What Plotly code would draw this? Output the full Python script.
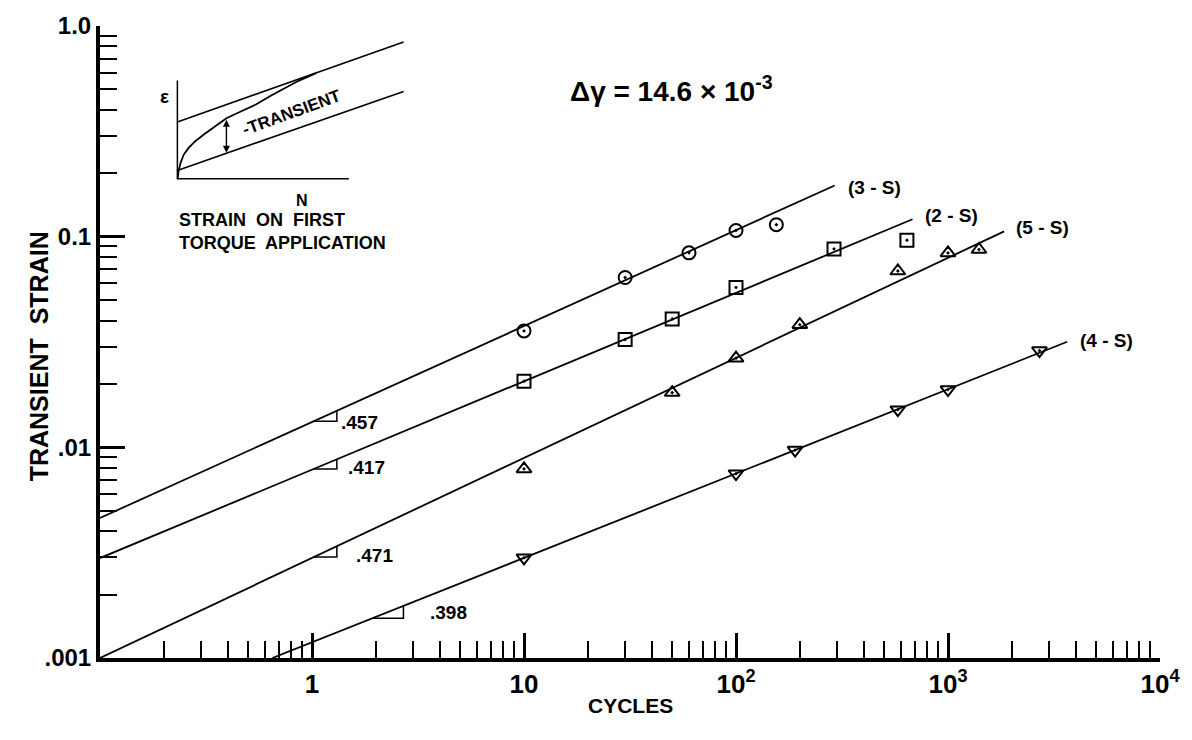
import numpy as np
import plotly.graph_objects as go

# ---------------- data ----------------
n_3s = [10, 30, 60, 100, 155]
eps_3s = [0.0357, 0.064, 0.0838, 0.107, 0.114]

n_2s = [10, 30, 50, 100, 290, 640]
eps_2s = [0.0206, 0.0325, 0.0407, 0.0574, 0.0875, 0.0962]

n_5s = [10, 50, 100, 200, 580, 1000, 1400]
eps_5s = [0.0079, 0.0182, 0.0265, 0.0382, 0.0687, 0.0837, 0.0869]

n_4s = [10, 100, 190, 580, 1000, 2700]
eps_4s = [0.00299, 0.0075, 0.0097, 0.0151, 0.0188, 0.0288]

# fitted straight lines (end points, log-log)
fit_3s_n = [0.1, 292]
fit_3s_eps = [0.00462, 0.175]
fit_2s_n = [0.1, 680]
fit_2s_eps = [0.00298, 0.121]
fit_5s_n = [0.1, 1840]
fit_5s_eps = [0.001, 0.106]
fit_4s_n = [0.65, 3650]
fit_4s_eps = [0.001, 0.0317]

series_names = ["(3 - S)", "(2 - S)", "(5 - S)", "(4 - S)"]
slopes = [".457", ".417", ".471", ".398"]
# N-range of the little slope triangles
tri_n = [[1.02, 1.31], [1.02, 1.31], [1.02, 1.31], [1.93, 2.7]]

x_tickvals = [1, 10, 100, 1000, 10000]
x_ticktext = ["1", "10", "10<sup>2</sup>", "10<sup>3</sup>", "10<sup>4</sup>"]
y_tickvals = [0.001, 0.01, 0.1, 1.0]
y_ticktext = [".001", ".01", "0.1", "1.0"]

# inset sketch (schematic units)
inset_axes_u = [0, 0, 173]
inset_axes_v = [100, 0, 0]
inset_upper_u = [0, 228]
inset_upper_v = [58, 139]
inset_lower_u = [0, 228]
inset_lower_v = [9, 89]
inset_curve_u = [1, 2, 4, 7, 12, 19, 28, 39, 50, 65, 80, 95, 110, 123, 140]
inset_curve_v = [1, 9, 17, 25, 32, 39, 46, 54, 62, 69, 76, 85, 93, 100, 107.5]

FONT = "Liberation Sans"
BLACK = "#000000"

fig = go.Figure()

fits = [(fit_3s_n, fit_3s_eps), (fit_2s_n, fit_2s_eps),
        (fit_5s_n, fit_5s_eps), (fit_4s_n, fit_4s_eps)]
pts = [(n_3s, eps_3s, "circle-open-dot"), (n_2s, eps_2s, "square-open-dot"),
       (n_5s, eps_5s, "triangle-up-open-dot"), (n_4s, eps_4s, "triangle-down-open-dot")]

for (fn, fe) in fits:
    fig.add_trace(go.Scatter(x=fn, y=fe, mode="lines",
                             line=dict(color=BLACK, width=1.8),
                             showlegend=False, hoverinfo="skip"))

# slope triangles (legs under each line)
def line_eps(fn, fe, n):
    ln = np.log10(fn); le = np.log10(fe)
    return 10 ** np.interp(np.log10(n), ln, le)

for (fn, fe), (n1, n2) in zip(fits, tri_n):
    e1 = line_eps(fn, fe, n1)
    e2 = line_eps(fn, fe, n2)
    fig.add_trace(go.Scatter(x=[n1, n2, n2], y=[e1, e1, e2], mode="lines",
                             line=dict(color=BLACK, width=1.5),
                             showlegend=False, hoverinfo="skip"))

for (n, e, sym) in pts:
    fig.add_trace(go.Scatter(x=n, y=e, mode="markers",
                             marker=dict(symbol=sym, size=13, color=BLACK,
                                         line=dict(color=BLACK, width=2)),
                             showlegend=False, hoverinfo="skip"))

# inset traces
for (u, v, w) in [(inset_axes_u, inset_axes_v, 3), (inset_upper_u, inset_upper_v, 1.6),
                  (inset_lower_u, inset_lower_v, 1.6), (inset_curve_u, inset_curve_v, 1.8)]:
    fig.add_trace(go.Scatter(x=u, y=v, xaxis="x2", yaxis="y2", mode="lines",
                             line=dict(color=BLACK, width=w), cliponaxis=False,
                             showlegend=False, hoverinfo="skip"))

ann = []
# series labels
series_lab_pos = [(330, 0.172), (760, 0.126), (2050, 0.111), (4100, 0.0323)]
for name, (x, y) in zip(series_names, series_lab_pos):
    ann.append(dict(x=np.log10(x), y=np.log10(y), xref="x", yref="y", text=name,
                    showarrow=False, xanchor="left", yanchor="middle",
                    font=dict(family=FONT, size=19, color=BLACK, weight="bold")))
# slope labels
slope_lab_pos = [(1.34, 0.0131), (1.45, 0.00806), (1.57, 0.00308), (3.51, 0.00164)]
for s, (x, y) in zip(slopes, slope_lab_pos):
    ann.append(dict(x=np.log10(x), y=np.log10(y), xref="x", yref="y", text=s,
                    showarrow=False, xanchor="left", yanchor="middle",
                    font=dict(family=FONT, size=19, color=BLACK, weight="bold")))

# delta gamma
ann.append(dict(x=0.539, y=0.90, xref="paper", yref="paper",
                text="Δγ = 14.6 × 10<sup>-3</sup>", showarrow=False,
                yanchor="middle",
                font=dict(family=FONT, size=28, color=BLACK, weight="bold")))
# axis titles
ann.append(dict(x=-0.0732, y=0.478, xref="paper", yref="paper", text="TRANSIENT  STRAIN",
                textangle=-90, showarrow=False,
                font=dict(family=FONT, size=25, color=BLACK, weight="bold")))
ann.append(dict(x=0.5, y=-0.097, xref="paper", yref="paper", text="CYCLES",
                showarrow=False,
                font=dict(family=FONT, size=21, color=BLACK, weight="bold")))

# inset annotations
ann.append(dict(x=50, y=27, xref="x2", yref="y2", ax=50, ay=62, axref="x2", ayref="y2",
                text="", showarrow=True, arrowhead=2, startarrowhead=2,
                arrowside="end+start", arrowsize=1, arrowwidth=1.4, arrowcolor=BLACK))
ann.append(dict(x=116, y=68, xref="x2", yref="y2", text="-TRANSIENT", textangle=-20,
                showarrow=False,
                font=dict(family=FONT, size=17, color=BLACK, weight="bold")))
ann.append(dict(x=0.0545, y=0.909, xref="paper", yref="paper", text="ε", showarrow=False,
                font=dict(family=FONT, size=19, color=BLACK, weight="bold")))
ann.append(dict(x=0.1831, y=0.740, xref="paper", yref="paper", text="N", showarrow=False,
                font=dict(family=FONT, size=16, color=BLACK, weight="bold")))
ann.append(dict(x=0.0723, y=0.6755, xref="paper", yref="paper",
                text="STRAIN  ON  FIRST<br>TORQUE  APPLICATION", showarrow=False,
                xanchor="left", yanchor="middle", align="left",
                font=dict(family=FONT, size=18, color=BLACK, weight="bold")))

x_minor = [m * 10 ** d for d in range(-1, 4) for m in range(2, 10)]
y_minor = [m * 10 ** d for d in range(-3, 0) for m in range(2, 10)]

fig.update_layout(
    width=1192, height=740,
    margin=dict(l=100, r=27, t=20, b=82),
    paper_bgcolor="white", plot_bgcolor="white",
    showlegend=False,
    annotations=ann,
    xaxis=dict(type="log", range=[-1, 4], showgrid=False, zeroline=False,
               showline=True, linewidth=4, linecolor=BLACK,
               ticks="inside", ticklen=25, tickwidth=2.5, tickcolor=BLACK,
               tickmode="array", tickvals=x_tickvals, ticktext=x_ticktext,
               tickfont=dict(family=FONT, size=26, color=BLACK, weight="bold"),
               minor=dict(tickmode="array", tickvals=x_minor, ticks="inside",
                          ticklen=17, tickwidth=2, tickcolor=BLACK, showgrid=False)),
    yaxis=dict(type="log", range=[-3, 0], showgrid=False, zeroline=False,
               showline=True, linewidth=4, linecolor=BLACK,
               ticks="inside", ticklen=25, tickwidth=2.5, tickcolor=BLACK,
               tickmode="array", tickvals=y_tickvals, ticktext=y_ticktext,
               tickfont=dict(family=FONT, size=24, color=BLACK, weight="bold"),
               minor=dict(tickmode="array", tickvals=y_minor, ticks="inside",
                          ticklen=17, tickwidth=2, tickcolor=BLACK, showgrid=False)),
    xaxis2=dict(domain=[0.0723, 0.3005], range=[0, 243], visible=False,
                anchor="y2", fixedrange=True),
    yaxis2=dict(domain=[0.757, 0.992], range=[0, 150], visible=False,
                anchor="x2", fixedrange=True),
)

fig.write_html("out.html")
